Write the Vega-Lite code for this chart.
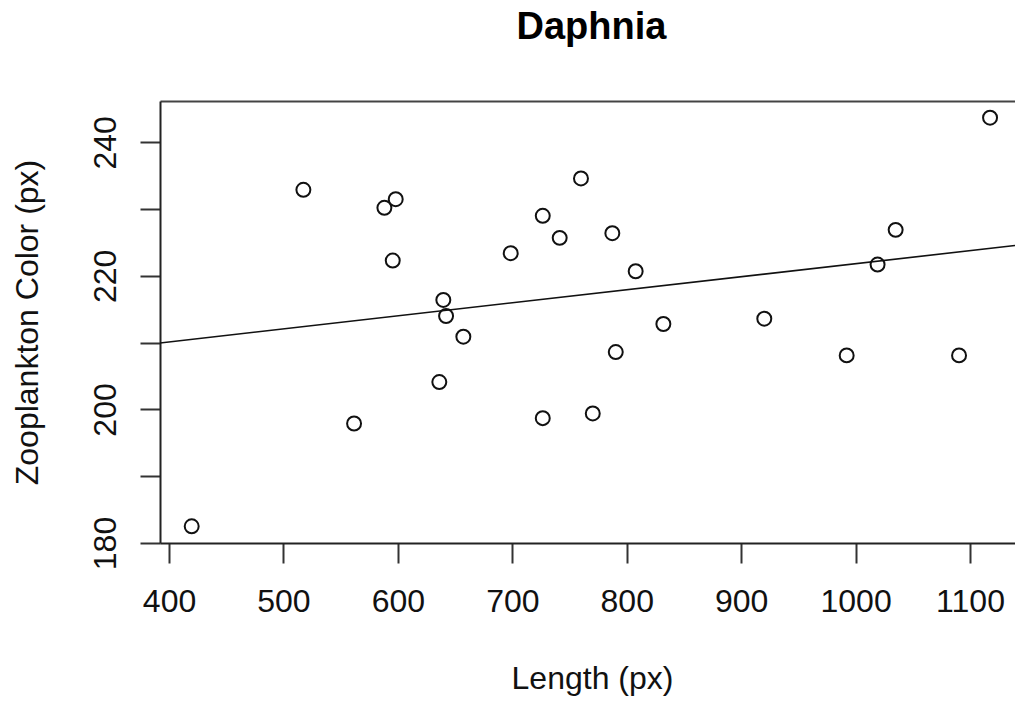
{
  "$schema": "https://vega.github.io/schema/vega-lite/v6.json",
  "autosize": "none",
  "width": 855,
  "height": 442,
  "padding": {"left": 160, "top": 101, "right": 0, "bottom": 159},
  "background": "white",
  "config": {
    "view": {"stroke": null},
    "font": "Liberation Sans",
    "axis": {"grid": false}
  },
  "title": {
    "text": "Daphnia",
    "font": "Liberation Sans",
    "fontSize": 38,
    "fontWeight": "bold",
    "color": "#000000",
    "anchor": "middle",
    "baseline": "alphabetic",
    "offset": 24,
    "dx": 4
  },
  "data": {
    "values": [
      {"length": 419.8, "color": 182.5},
      {"length": 517.4, "color": 232.9},
      {"length": 588.2, "color": 230.2},
      {"length": 598.1, "color": 231.5},
      {"length": 595.5, "color": 222.3},
      {"length": 561.7, "color": 197.9},
      {"length": 639.7, "color": 216.4},
      {"length": 642.1, "color": 214.0},
      {"length": 657.2, "color": 210.9},
      {"length": 636.2, "color": 204.1},
      {"length": 698.6, "color": 223.4},
      {"length": 726.6, "color": 229.0},
      {"length": 741.4, "color": 225.7},
      {"length": 760.0, "color": 234.6},
      {"length": 726.6, "color": 198.7},
      {"length": 770.3, "color": 199.4},
      {"length": 787.4, "color": 226.4},
      {"length": 807.8, "color": 220.7},
      {"length": 790.4, "color": 208.6},
      {"length": 832.0, "color": 212.8},
      {"length": 920.2, "color": 213.6},
      {"length": 992.2, "color": 208.1},
      {"length": 1019.2, "color": 221.7},
      {"length": 1035.0, "color": 226.9},
      {"length": 1090.4, "color": 208.1},
      {"length": 1117.5, "color": 243.7}
    ]
  },
  "resolve": {"axis": {"x": "independent"}},
  "layer": [
    {
      "mark": {"type": "point", "shape": "circle", "filled": false, "size": 195, "strokeWidth": 2, "color": "#111111", "opacity": 1},
      "encoding": {
        "x": {
          "field": "length", "type": "quantitative",
          "scale": {"domain": [392.1, 1139.3], "nice": false, "zero": false},
          "axis": {
            "title": "Length (px)",
            "values": [400, 500, 600, 700, 800, 900, 1000, 1100],
            "format": "d",
            "domainColor": "#222222", "domainWidth": 2,
            "tickColor": "#333333", "tickWidth": 2, "tickSize": 20,
            "labelFont": "Liberation Sans", "labelFontSize": 32, "labelColor": "#111111",
            "labelBaseline": "alphabetic", "labelPadding": 48, "labelFlush": false, "labelOverlap": false,
            "titleFont": "Liberation Sans", "titleFontSize": 32, "titleFontWeight": "normal", "titleColor": "#111111",
            "titleX": 432, "titleY": 145, "titleAlign": "center", "titleBaseline": "alphabetic"
          }
        },
        "y": {
          "field": "color", "type": "quantitative",
          "scale": {"domain": [180, 246.2], "nice": false, "zero": false},
          "axis": {
            "title": "Zooplankton Color (px)",
            "values": [180, 190, 200, 210, 220, 230, 240],
            "labelExpr": "datum.value % 20 == 0 ? datum.label : ''",
            "domainColor": "#222222", "domainWidth": 2,
            "tickColor": "#333333", "tickWidth": 2, "tickSize": 20,
            "labelFont": "Liberation Sans", "labelFontSize": 32, "labelColor": "#111111",
            "labelAngle": 270, "labelAlign": "center", "labelBaseline": "alphabetic", "labelPadding": 25, "labelOverlap": false, "labelFlush": false,
            "titleFont": "Liberation Sans", "titleFontSize": 32, "titleFontWeight": "normal", "titleColor": "#111111",
            "titleX": -123, "titleY": 221, "titleAngle": 270, "titleAlign": "center", "titleBaseline": "alphabetic"
          }
        }
      }
    },
    {
      "transform": [{"regression": "color", "on": "length", "extent": [392.1, 1139.3]}],
      "mark": {"type": "line", "color": "#111111", "strokeWidth": 1.6, "clip": true},
      "encoding": {
        "x": {
          "field": "length", "type": "quantitative",
          "axis": {"orient": "top", "title": null, "labels": false, "ticks": false, "domainColor": "#444444", "domainWidth": 2}
        },
        "y": {"field": "color", "type": "quantitative"}
      }
    }
  ]
}
